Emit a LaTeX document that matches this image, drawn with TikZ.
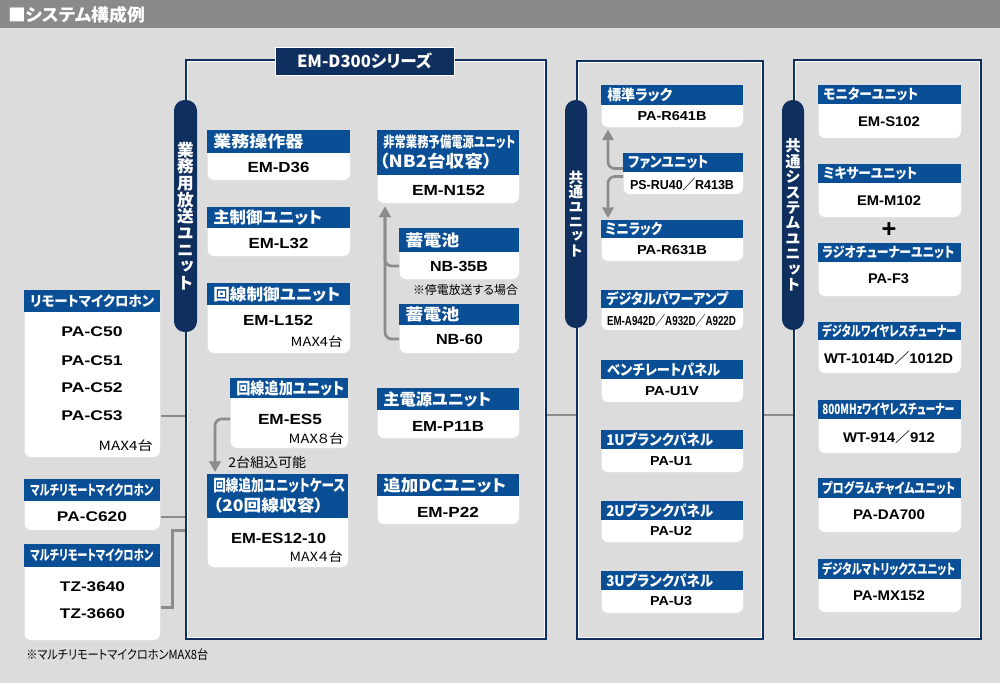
\documentclass[tikz,border=0pt]{standalone}
\usepackage{fontspec}
\usepackage{graphicx}
\setmainfont{Liberation Sans}
\newfontfamily\jp{Noto Sans CJK JP}[RawFeature=+palt]
\newfontfamily\jpv{Noto Sans CJK JP}[RawFeature=+vert]
\usetikzlibrary{arrows.meta,calc}

\definecolor{bgray}{HTML}{DCDCDC}
\definecolor{tgray}{HTML}{8A8A8A}
\definecolor{navy}{HTML}{0F2F5E}
\definecolor{hblue}{HTML}{0A4F96}
\definecolor{linkgray}{HTML}{8C8C8C}

\newdimen\pxu \pxu=0.75pt
\newcommand{\fitw}[2]{\resizebox{#1\pxu}{\height}{#2}}
% card: name, x1, y1, x2, header bottom, card bottom
\newcommand{\unitcard}[6]{%
  \node[cardbody, minimum width={(#4-#2)*\pxu}, minimum height={(#6-#3)*\pxu}] (#1) at (#2,#3) {};
  \node[cardhead, minimum width={(#4-#2)*\pxu}, minimum height={(#5-#3)*\pxu}] (#1h) at (#2,#3) {};}

\begin{document}
\begin{tikzpicture}[x=0.75pt, y=-0.75pt,
    cardbody/.style={fill=white, draw=black!12, line width=0.4pt, rounded corners=5pt, inner sep=0pt, anchor=north west},
    cardhead/.style={fill=hblue, inner sep=0pt, anchor=north west},
    head/.style={anchor=west, inner sep=0pt, text=white, font=\jp\bfseries\fontsize{12}{14}\selectfont},
    heads/.style={head, font=\jp\bfseries\fontsize{10.5}{12}\selectfont},
    model/.style={inner sep=0pt, font=\bfseries\fontsize{11}{13}\selectfont},
    modelm/.style={model, font=\bfseries\fontsize{10.5}{12}\selectfont},
    models/.style={model, font=\bfseries\fontsize{9.75}{12}\selectfont},
    note/.style={inner sep=0pt, font=\jp\fontsize{9.5}{11}\selectfont},
    unitframe/.style={draw=navy, line width=1.6pt, inner sep=0pt, anchor=north west},
    pill/.style={fill=navy, rounded corners=8pt, inner sep=0pt, text=white, align=center},
    link/.style={draw=linkgray, line width=2pt},
    flow/.style={link, rounded corners=5pt, -{Triangle[length=8pt,width=8.5pt]}},
  ]
  \useasboundingbox (0,0) rectangle (1000,683);
  \fill[bgray] (0,0) rectangle (1000,683);
  \fill[tgray] (0,0) rectangle (1000,28);
  \node[head, font=\jp\bfseries\fontsize{13}{15}\selectfont] (title) at (8,15) {\fitw{137}{■システム構成例}};

  % frames
  \node[unitframe, minimum width={360*\pxu}, minimum height={579*\pxu}] (d300) at (185,59) {};
  \node[unitframe, minimum width={186*\pxu}, minimum height={578*\pxu}] (common) at (576,60) {};
  \node[unitframe, minimum width={187*\pxu}, minimum height={579*\pxu}] (system) at (793,59) {};
  \foreach \f in {d300,common,system}
    \draw[white, line width=0.5pt] ([shift={(2.5,2.5)}]\f.north west) rectangle ([shift={(-2.5,-2.5)}]\f.south east);

  \node[fill=navy, draw=white, line width=0.5pt, minimum width={179*\pxu}, minimum height={28*\pxu}, inner sep=0pt,
        text=white, font=\jp\bfseries\fontsize{12.5}{14}\selectfont] (d300lbl) at (364.5,61) {\fitw{135}{EM-D300シリーズ}};

  \node[pill, minimum width={23*\pxu}, minimum height={232*\pxu}, font=\jpv\bfseries\fontsize{12.5}{12.5}\selectfont]
    (pillA) at (185.5,216) {業\\務\\用\\放\\送\\ユ\\ニ\\ッ\\ト};
  \node[pill, minimum width={22*\pxu}, minimum height={228*\pxu}, font=\jpv\bfseries\fontsize{11}{11}\selectfont]
    (pillB) at (576,214) {共\\通\\ユ\\ニ\\ッ\\ト};
  \node[pill, minimum width={22*\pxu}, minimum height={230*\pxu}, font=\jpv\bfseries\fontsize{11.5}{11.6}\selectfont]
    (pillC) at (793,215) {共\\通\\シ\\ス\\テ\\ム\\ユ\\ニ\\ッ\\ト};

  % microphones
  \unitcard{remote}{24}{290}{160}{312}{457}
  \node[heads] (remotet) at (30,301) {\fitw{124}{リモートマイクロホン}};
  \node[modelm] (c50) at (92,332) {\fitw{61}{PA-C50}};
  \node[modelm] (c51) at (92,361) {\fitw{61}{PA-C51}};
  \node[modelm] (c52) at (92,388) {\fitw{61}{PA-C52}};
  \node[modelm] (c53) at (92,416) {\fitw{61}{PA-C53}};
  \node[note, anchor=east] (remotemax) at (153,446) {\fitw{54}{MAX4台}};
  \unitcard{multi1}{24}{479}{160}{501}{530}
  \node[heads] (multi1t) at (30,490) {\fitw{123}{マルチリモートマイクロホン}};
  \node[modelm] (c620) at (92,517) {\fitw{70}{PA-C620}};
  \unitcard{multi2}{24}{544}{160}{567}{640}
  \node[heads] (multi2t) at (30,555.5) {\fitw{123}{マルチリモートマイクロホン}};
  \node[modelm] (tz40) at (92.5,587) {\fitw{65}{TZ-3640}};
  \node[modelm] (tz60) at (92.5,614) {\fitw{65}{TZ-3660}};
  \node[note, anchor=west] (multinote) at (26,655) {\fitw{182}{※マルチリモートマイクロホンMAX8台}};

  % EM-D300 series
  \unitcard{d36}{207}{130}{350}{153}{180}
  \node[head] (d36t) at (213,141.5) {\fitw{90}{業務操作器}};
  \node[model] (d36m) at (278.5,167) {\fitw{62}{EM-D36}};
  \unitcard{l32}{207}{207}{350}{228}{256}
  \node[head] (l32t) at (213,217.5) {\fitw{109}{主制御ユニット}};
  \node[model] (l32m) at (278.5,243) {\fitw{60}{EM-L32}};
  \unitcard{l152}{207}{283}{350}{305}{353}
  \node[head] (l152t) at (213,294) {\fitw{127}{回線制御ユニット}};
  \node[model] (l152m) at (278,320) {\fitw{70}{EM-L152}};
  \node[note, anchor=east] (l152max) at (343,342) {\fitw{52}{MAX4台}};
  \unitcard{es5}{230}{378}{348}{398}{448}
  \node[head] (es5t) at (236,388) {\fitw{108}{回線追加ユニット}};
  \node[model] (es5m) at (290,419) {\fitw{64}{EM-ES5}};
  \node[note, anchor=east] (es5max) at (344,439) {\fitw{55}{MAX８台}};
  \node[note, anchor=west, font=\jp\fontsize{10}{12}\selectfont] (es5note) at (228,462) {\fitw{78}{2台組込可能}};
  \unitcard{es12}{207}{474}{348}{518}{567}
  \node[head] (es12t) at (213,485) {\fitw{132}{回線追加ユニットケース}};
  \node[head] (es12t2) at (213,505) {\fitw{110}{（20回線収容）}};
  \node[model] (es12m) at (278.5,538) {\fitw{95}{EM-ES12-10}};
  \node[note, anchor=east] (es12max) at (343,557) {\fitw{53}{MAX４台}};

  \unitcard{n152}{377}{130}{519}{175}{203}
  \node[head, font=\jp\bfseries\fontsize{11}{13}\selectfont] (n152t) at (383,142) {\fitw{132}{非常業務予備電源ユニット}};
  \node[head, font=\jp\bfseries\fontsize{12.5}{14}\selectfont] (n152t2) at (379,161.5) {\fitw{113}{（NB2台収容）}};
  \node[model] (n152m) at (448.5,190) {\fitw{73}{EM-N152}};
  \unitcard{nb35}{399}{228}{519}{252}{279}
  \node[head] (nb35t) at (405,240) {\fitw{54}{蓄電池}};
  \node[model] (nb35m) at (459,266) {\fitw{58}{NB-35B}};
  \node[note, font=\jp\fontsize{9}{11}\selectfont] (nb35note) at (465.5,290) {\fitw{105}{※停電放送する場合}};
  \unitcard{nb60}{399}{304}{519}{325}{353}
  \node[head] (nb60t) at (405,314.5) {\fitw{54}{蓄電池}};
  \node[model] (nb60m) at (459.5,339) {\fitw{47}{NB-60}};
  \unitcard{p11b}{377}{388}{519}{410}{438}
  \node[head] (p11bt) at (383,399) {\fitw{108}{主電源ユニット}};
  \node[model] (p11bm) at (448,426) {\fitw{72}{EM-P11B}};
  \unitcard{p22}{377}{474}{519}{496}{524}
  \node[head] (p22t) at (383,485) {\fitw{123}{追加DCユニット}};
  \node[model] (p22m) at (448,512) {\fitw{62}{EM-P22}};

  % common units
  \unitcard{rack}{601}{85}{743}{105}{127}
  \node[head, font=\jp\bfseries\fontsize{11}{13}\selectfont] (rackt) at (607,95) {\fitw{65}{標準ラック}};
  \node[models] (rackm) at (672,116.5) {\fitw{69}{PA-R641B}};
  \unitcard{fan}{623}{153}{743}{172}{194}
  \node[head, font=\jp\bfseries\fontsize{11}{13}\selectfont] (fant) at (628,162.5) {\fitw{80}{ファンユニット}};
  \node[models] (fanm) at (682,184.5) {\fitw{104}{PS-RU40{\jp ／}R413B}};
  \unitcard{mini}{601}{220}{743}{238}{261}
  \node[head, font=\jp\bfseries\fontsize{11}{13}\selectfont] (minit) at (605,229) {\fitw{57}{ミニラック}};
  \node[models] (minim) at (672,250.5) {\fitw{70}{PA-R631B}};
  \unitcard{amp}{601}{290}{743}{308}{330}
  \node[head, font=\jp\bfseries\fontsize{11}{13}\selectfont] (ampt) at (606,299) {\fitw{122}{デジタルパワーアンプ}};
  \node[models] (ampm) at (671.5,321) {\fitw{129}{EM-A942D{\jp ／}A932D{\jp ／}A922D}};
  \unitcard{u1v}{601}{360}{743}{379}{402}
  \node[head, font=\jp\bfseries\fontsize{11}{13}\selectfont] (u1vt) at (607,369.5) {\fitw{113}{ベンチレートパネル}};
  \node[models] (u1vm) at (672,391.5) {\fitw{54}{PA-U1V}};
  \unitcard{u1}{601}{430}{743}{449}{472}
  \node[head, font=\jp\bfseries\fontsize{11}{13}\selectfont] (u1t) at (606,439.5) {\fitw{107}{1Uブランクパネル}};
  \node[models] (u1m) at (671,461.5) {\fitw{42}{PA-U1}};
  \unitcard{u2}{601}{501}{743}{520}{542}
  \node[head, font=\jp\bfseries\fontsize{11}{13}\selectfont] (u2t) at (606,510.5) {\fitw{107}{2Uブランクパネル}};
  \node[models] (u2m) at (671,531.5) {\fitw{42}{PA-U2}};
  \unitcard{u3}{601}{571}{743}{590}{613}
  \node[head, font=\jp\bfseries\fontsize{11}{13}\selectfont] (u3t) at (606,580.5) {\fitw{107}{3Uブランクパネル}};
  \node[models] (u3m) at (671,601.5) {\fitw{42}{PA-U3}};

  % common system units
  \unitcard{s102}{818}{85}{961}{104}{138}
  \node[heads] (s102t) at (823,94.5) {\fitw{95}{モニターユニット}};
  \node[modelm] (s102m) at (889,122) {\fitw{62}{EM-S102}};
  \unitcard{m102}{818}{164}{961}{183}{217}
  \node[heads] (m102t) at (823,173.5) {\fitw{94}{ミキサーユニット}};
  \node[modelm] (m102m) at (889,201) {\fitw{64}{EM-M102}};
  \node[inner sep=0pt, font=\bfseries\fontsize{19}{19}\selectfont] (plus) at (889,230) {+};
  \unitcard{f3}{818}{243}{961}{262}{296}
  \node[heads] (f3t) at (822,252.5) {\fitw{132}{ラジオチューナーユニット}};
  \node[modelm] (f3m) at (888.5,279) {\fitw{41}{PA-F3}};
  \unitcard{wt1014}{818}{322}{961}{340}{373}
  \node[heads] (wt1014t) at (822,331) {\fitw{134}{デジタルワイヤレスチューナー}};
  \node[modelm] (wt1014m) at (888.5,358) {\fitw{129}{WT-1014D{\jp ／}1012D}};
  \unitcard{wt914}{818}{400}{961}{419}{453}
  \node[heads] (wt914t) at (822,409.5) {\fitw{132}{800MHzワイヤレスチューナー}};
  \node[modelm] (wt914m) at (889,437) {\fitw{92}{WT-914{\jp ／}912}};
  \unitcard{da700}{818}{478}{961}{498}{532}
  \node[heads] (da700t) at (822,488) {\fitw{133}{プログラムチャイムユニット}};
  \node[modelm] (da700m) at (889,515) {\fitw{72}{PA-DA700}};
  \unitcard{mx152}{818}{559}{961}{579}{612}
  \node[heads] (mx152t) at (822,569) {\fitw{133}{デジタルマトリックスユニット}};
  \node[modelm] (mx152m) at (889,596) {\fitw{72}{PA-MX152}};

  % connections
  \coordinate (bus) at (0,415);
  \coordinate (tzlink) at ($(tz40)!0.75!(tz60)$);
  \draw[link] (c53 -| remote.east) -- (c53 -| d300.west);
  \draw[link] (c620 -| multi1.east) -- (c620 -| d300.west);
  \draw[link] (tzlink -| multi2.east) -- ++(12,0) |- (multi1.south -| d300.west);
  \draw[link] (bus -| d300.east) -- (bus -| common.west);
  \draw[link] (bus -| common.east) -- (bus -| system.west);

  \draw[flow] (nb35m -| nb35.west) -| ([shift={(8,3)}]n152.south west);
  \draw[flow] (nb60m -| nb60.west) -| ([shift={(8,3)}]n152.south west);
  \draw[flow] (es5m -| es5.west) -| ([shift={(8,-2)}]es12.north west);
  \draw[flow] ([yshift=3pt]fanh.south west) -| ([shift={(7,2)}]rack.south west);
  \draw[flow] ([yshift=-3pt]fanh.south west) -| ([shift={(7,-2)}]mini.north west);
\end{tikzpicture}
\end{document}
